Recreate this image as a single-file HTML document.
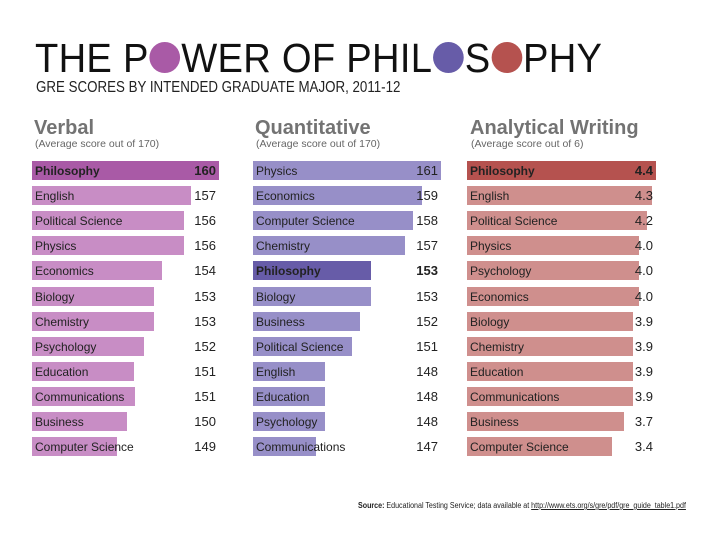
<!DOCTYPE html>
<html><head><meta charset="utf-8"><style>
body{margin:0;width:708px;height:547px;background:#fff;position:relative;overflow:hidden;font-family:"Liberation Sans",sans-serif}
.a{position:absolute;white-space:nowrap}
.t{left:35px;top:34px;font-size:41px;letter-spacing:0.3px;color:#111;line-height:48px;transform:scaleX(0.93);transform-origin:left top}
.dot{display:inline-block;width:33px;height:31px;border-radius:50%;vertical-align:-1px;margin:0 1px}
.s{left:36px;top:79px;font-size:15.5px;color:#222;transform:scaleX(0.86);transform-origin:left top}
.h{font-size:20px;font-weight:bold;color:#737373;top:117px}
.h2{font-size:10.5px;color:#666;top:138px}
.bar{position:absolute;height:19px}
.lb{position:absolute;font-size:12px;color:#222;line-height:19px}
.v{position:absolute;font-size:13px;color:#222;line-height:19px;text-align:right;width:40px}
.b{font-weight:bold}
</style></head><body>
<div class="a t">THE P<span class="dot" style="background:#a95aa6"></span>WER OF PHIL<span class="dot" style="background:#675ca8"></span>S<span class="dot" style="background:#b5524f"></span>PHY</div>
<div class="a s">GRE SCORES BY INTENDED GRADUATE MAJOR, 2011-12</div>
<div class="a h" style="left:34px">Verbal</div><div class="a h2" style="left:35px">(Average score out of 170)</div>
<div class="a h" style="left:255px">Quantitative</div><div class="a h2" style="left:256px">(Average score out of 170)</div>
<div class="a h" style="left:470px">Analytical Writing</div><div class="a h2" style="left:471px">(Average score out of 6)</div>
<div id="c"></div>
<div class="a" style="left:358px;top:501px;font-size:7.9px;color:#222;transform:scaleX(0.9);transform-origin:left top"><b>Source:</b> Educational Testing Service; data available at <u>http://www.ets.org/s/gre/pdf/gre_guide_table1.pdf</u></div>
<script>
const cols=[
{x:32,nr:216,c:"#c88dc5",p:"#a95aa6",d:[["Philosophy",219,"160"],["English",191,"157"],["Political Science",184,"156"],["Physics",184,"156"],["Economics",162,"154"],["Biology",154,"153"],["Chemistry",154,"153"],["Psychology",144,"152"],["Education",134,"151"],["Communications",135,"151"],["Business",127,"150"],["Computer Science",117,"149"]],ph:0},
{x:253,nr:438,c:"#978fc8",p:"#675ca8",d:[["Physics",441,"161"],["Economics",422,"159"],["Computer Science",413,"158"],["Chemistry",405,"157"],["Philosophy",371,"153"],["Biology",371,"153"],["Business",360,"152"],["Political Science",352,"151"],["English",325,"148"],["Education",325,"148"],["Psychology",325,"148"],["Communications",316,"147"]],ph:4},
{x:467,nr:653,c:"#cf8f8d",p:"#b5524f",d:[["Philosophy",656,"4.4"],["English",652,"4.3"],["Political Science",647,"4.2"],["Physics",639,"4.0"],["Psychology",639,"4.0"],["Economics",639,"4.0"],["Biology",633,"3.9"],["Chemistry",633,"3.9"],["Education",633,"3.9"],["Communications",633,"3.9"],["Business",624,"3.7"],["Computer Science",612,"3.4"]],ph:0}];
let h="";
cols.forEach(c=>c.d.forEach((r,i)=>{const y=161+i*25.1;const ph=i==c.ph;
h+=`<div class="bar" style="left:${c.x}px;top:${y}px;width:${r[1]-c.x}px;background:${ph?c.p:c.c}"></div>`;
h+=`<div class="lb${ph?' b':''}" style="left:${c.x+3}px;top:${y+1}px">${r[0]}</div>`;
h+=`<div class="v${ph?' b':''}" style="left:${c.nr-40}px;top:${y}px">${r[2]}</div>`;}));
document.getElementById("c").innerHTML=h;
</script>
</body></html>
